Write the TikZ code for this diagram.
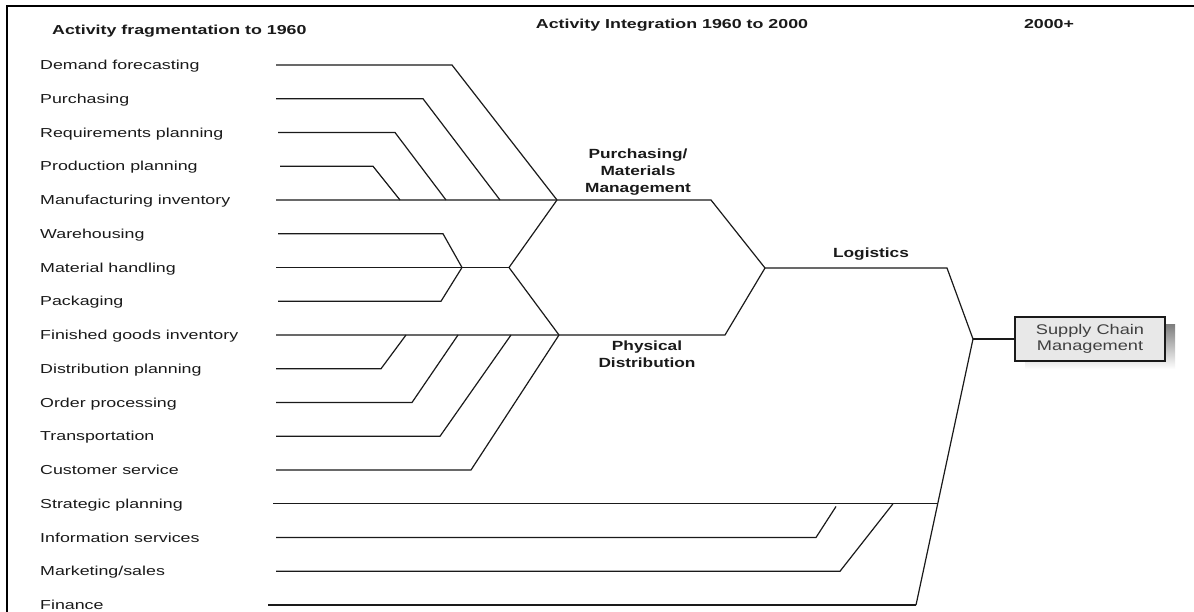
\documentclass[tikz,border=0pt]{standalone}
\usepackage{fontspec}
\setmainfont{Liberation Sans}[FakeStretch=1.37]
\newfontfamily\grpfont{Liberation Sans}[FakeStretch=1.3]
\usetikzlibrary{calc}
\definecolor{ink}{HTML}{1A1A1A}
\definecolor{boxfill}{HTML}{E8E8E8}
\definecolor{shade}{HTML}{A6A6A6}
\begin{document}
\begin{tikzpicture}[x=1pt,y=-1pt,
  lbl/.style={anchor=base west,inner sep=0pt,font=\fontsize{13}{16}\selectfont,text=ink},
  hdr/.style={anchor=base,inner sep=0pt,font=\fontsize{13}{16}\selectfont\bfseries,text=ink},
  grp/.style={inner sep=0pt,align=center,font=\grpfont\fontsize{13.3}{17}\selectfont\bfseries,text=ink},
  wire/.style={draw=ink,line width=1.2pt,line join=miter},
  frame/.style={draw=black,line width=2.5pt},
  scmbox/.style={draw=ink,fill=boxfill,line width=1.1pt,minimum width=150pt,minimum height=44pt,
    align=center,inner sep=0pt,font=\grpfont\fontsize{14}{16}\selectfont,text=black!75}]
\useasboundingbox (0,0) rectangle (1194,612);
\fill[white] (0,0) rectangle (1194,612);

% outer frame (top and left edges)
\draw[frame] (7,612) -- (7,6) -- (1194,6);

% column headings
\node[hdr,anchor=base west] (h1) at (52,35) {Activity fragmentation to 1960};
\node[hdr] (h2) at (672,29) {Activity Integration 1960 to 2000};
\node[hdr] (h3) at (1049,29) {2000+};

% activity labels
\foreach \n/\t [count=\i from 0] in {
  a0/{Demand forecasting}, a1/{Purchasing}, a2/{Requirements planning},
  a3/{Production planning}, a4/{Manufacturing inventory}, a5/{Warehousing},
  a6/{Material handling}, a7/{Packaging}, a8/{Finished goods inventory},
  a9/{Distribution planning}, a10/{Order processing}, a11/{Transportation},
  a12/{Customer service}, a13/{Strategic planning}, a14/{Information services},
  a15/{Marketing/sales}, a16/{Finance}}
  \node[lbl] (\n) at (40,{65+33.75*\i+4.7}) {\t};

% junctions
\coordinate (pm) at (557,200);
\coordinate (wh) at (462,267.5);
\coordinate (mh) at (509,267.5);
\coordinate (pd) at (559,335);
\coordinate (lg) at (765,268);
\coordinate (sc) at (973,339);
\coordinate (lowend) at (916,605);

% purchasing / materials management branch
\draw[wire] (276,65) -- (452,65) -- (pm);
\draw[wire] (276,98.75) -- (423,98.75) -- (500,200);
\draw[wire] (278,132.5) -- (395,132.5) -- (446,200);
\draw[wire] (280,166.25) -- (373,166.25) -- (400,200);
\draw[wire] (276,200) -- (pm) -- (711,200) -- (lg);

% warehousing / handling / packaging
\draw[wire] (278,233.75) -- (443,233.75) -- (wh);
\draw[wire] (278,301.25) -- (441,301.25) -- (wh);
\draw[wire] (276,267.5) -- (mh);
\draw[wire] (pm) -- (mh) -- (pd);

% physical distribution branch
\draw[wire] (276,335) -- (pd) -- (725,335) -- (lg);
\draw[wire] (276,368.75) -- (381,368.75) -- (406,335);
\draw[wire] (276,402.5) -- (412,402.5) -- (458,335);
\draw[wire] (276,436.25) -- (440,436.25) -- (511,335);
\draw[wire] (276,470) -- (471,470) -- (pd);

% logistics
\draw[wire] (lg) -- (947,268) -- (sc);

% supply chain management box with drop shadow
\fill[shade] (1025,325) rectangle (1175,369);
\node[scmbox] (scm) at (1090,339) {Supply Chain\\Management};
\draw[wire] (sc) -- (scm.west);

% corporate functions
\draw[wire] (sc) -- (lowend);
\draw[wire] (273,503.75) -- (937.5,503.75);
\draw[wire] (276,537.5) -- (816,537.5) -- (836,506.5);
\draw[wire] (276,571.25) -- (840,571.25) -- (893,503.75);
\draw[wire] (268,605) -- (lowend);

% group labels
\node[grp] (pmm) at (638,172) {Purchasing/\\Materials\\Management};
\node[grp] (phd) at (647,354) {Physical\\Distribution};
\node[grp] (log) at (871,254) {Logistics};
\end{tikzpicture}
\end{document}
